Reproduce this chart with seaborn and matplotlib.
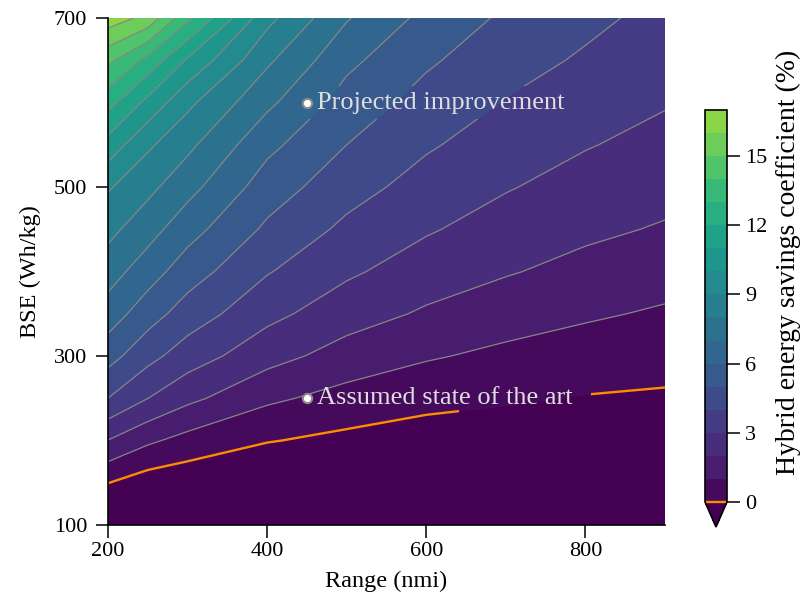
import matplotlib
matplotlib.use("Agg")
import matplotlib.pyplot as plt
from matplotlib.colors import Normalize
from matplotlib.path import Path
from matplotlib.patches import PathPatch
import numpy as np
import seaborn as sns

# Grid of mission range (nmi) and battery specific energy (Wh/kg)
ranges_nmi = [200, 250, 300, 400, 500, 600, 700, 800, 900]
bse_whkg = [100, 150, 200, 250, 300, 350, 400, 450, 500, 550, 600, 650, 700]

# Hybrid energy savings coefficient (%) along each BSE row, one value per range
sav_bse100 = [-1.70, -2.16, -2.02, -2.16, -2.01, -2.06, -1.88, -1.82, -1.65]
sav_bse150 = [0.02, -0.51, -0.68, -1.05, -1.12, -1.27, -1.22, -1.23, -1.15]
sav_bse200 = [1.98, 1.18, 0.66, 0.055, -0.24, -0.48, -0.55, -0.64, -0.64]
sav_bse250 = [4.00, 3.01, 2.25, 1.19, 0.65, 0.31, 0.12, -0.05, -0.13]
sav_bse300 = [5.39, 4.32, 3.50, 2.37, 1.59, 1.10, 0.78, 0.54, 0.38]
sav_bse350 = [6.53, 5.44, 4.54, 3.28, 2.44, 1.87, 1.44, 1.13, 0.88]
sav_bse400 = [7.45, 6.46, 5.47, 4.07, 3.16, 2.51, 2.08, 1.70, 1.39]
sav_bse450 = [8.29, 7.40, 6.39, 4.82, 3.78, 3.10, 2.58, 2.20, 1.91]
sav_bse500 = [9.11, 8.27, 7.34, 5.51, 4.39, 3.61, 3.07, 2.63, 2.32]
sav_bse550 = [10.60, 9.17, 8.24, 6.26, 5.00, 4.12, 3.51, 3.06, 2.70]
sav_bse600 = [12.37, 10.72, 9.23, 7.22, 5.59, 4.63, 3.95, 3.46, 3.07]
sav_bse650 = [14.26, 12.70, 10.87, 8.18, 6.24, 5.15, 4.39, 3.87, 3.38]
sav_bse700 = [16.55, 15.70, 13.24, 9.30, 7.08, 5.71, 4.83, 4.24, 3.70]

levels_pct = list(range(0, 18))
cbar_ticks = [0, 3, 6, 9, 12, 15]
x_ticks = [200, 400, 600, 800]
y_ticks = [100, 300, 500, 700]

marker_range = [450, 450]
marker_bse = [600, 250]
marker_text = ["Projected improvement", "Assumed state of the art"]

sns.set_theme(style="ticks")
plt.rcParams["font.family"] = ["Liberation Serif", "DejaVu Serif"]
plt.rcParams["mathtext.fontset"] = "stix"
for key in ("text.color", "axes.labelcolor", "xtick.color", "ytick.color",
            "xtick.labelcolor", "ytick.labelcolor"):
    plt.rcParams[key] = "black"

savings = np.array([sav_bse100, sav_bse150, sav_bse200, sav_bse250, sav_bse300,
                    sav_bse350, sav_bse400, sav_bse450, sav_bse500, sav_bse550,
                    sav_bse600, sav_bse650, sav_bse700])
R, B = np.meshgrid(ranges_nmi, bse_whkg)

W, H = 804, 599
fig = plt.figure(figsize=(W / 100, H / 100), dpi=100)
ax = fig.add_axes([108 / W, 1 - 525 / H, 557 / W, 507 / H])
cax = fig.add_axes([705 / W, 1 - 527 / H, 22 / W, 417 / H])

cmap = sns.color_palette("viridis", as_cmap=True)
norm = Normalize(vmin=0, vmax=20)

filled = ax.contourf(R, B, savings, levels=levels_pct, cmap=cmap, norm=norm,
                     extend="min")
lines = ax.contour(R, B, savings, levels=levels_pct[1:-1], colors="#858585",
                   linewidths=0.9)
zero = ax.contour(R, B, savings, levels=[0], colors="#ff8c00", linewidths=1.7)

# Keep the iso-lines clear of the annotation boxes
def rect(x0, x1, y0, y1, ccw=True):
    pts = [(x0, y0), (x1, y0), (x1, y1), (x0, y1)]
    if not ccw:
        pts = pts[::-1]
    return pts + [pts[0]]

verts, codes = [], []
for pts in (rect(150, 950, 50, 750, True),
            rect(439, 787, 580, 620, False),
            rect(641, 807, 214, 265, False)):
    verts += pts
    codes += [Path.MOVETO] + [Path.LINETO] * 3 + [Path.CLOSEPOLY]
clip = PathPatch(Path(verts, codes), transform=ax.transData, visible=False)
ax.add_patch(clip)
lines.set_clip_path(clip)
zero.set_clip_path(clip)

ax.scatter(marker_range, marker_bse, s=45, facecolor="white",
           edgecolor="#8a8a8a", linewidth=1.5, zorder=5)
for xr, yb, label in zip(marker_range, marker_bse, marker_text):
    ax.annotate(label, (xr, yb), xytext=(7.5, 0), textcoords="offset points",
                ha="left", va="center", color="#dedede", fontsize=19, zorder=6)

ax.set_xlim(200, 900)
ax.set_ylim(100, 700)
ax.set_xticks(x_ticks)
ax.set_yticks(y_ticks)
ax.set_xlabel("Range (nmi)", fontsize=17.5, labelpad=7)
ax.set_ylabel("BSE (Wh/kg)", fontsize=17.5, labelpad=9)
ax.tick_params(labelsize=16, length=9, width=1.1, color="black", direction="out")
ax.tick_params(axis="x", pad=3)
ax.tick_params(axis="y", pad=6)
sns.despine(ax=ax)
for s in ("left", "bottom"):
    ax.spines[s].set_color("black")
    ax.spines[s].set_linewidth(1.2)

cbar = fig.colorbar(filled, cax=cax, extendfrac=0.064)
cbar.add_lines(lines)
cbar.add_lines(zero)
cbar.set_ticks(cbar_ticks)
cbar.ax.tick_params(labelsize=16, length=9, width=1.1, color="black", pad=4)
cbar.outline.set_edgecolor("black")
cbar.outline.set_linewidth(1.2)
cbar.set_label("Hybrid energy savings coefficient (%)", fontsize=20, labelpad=6)
cbar.ax.yaxis.label.set_y(0.612)

fig.savefig("out.png", dpi=100)
